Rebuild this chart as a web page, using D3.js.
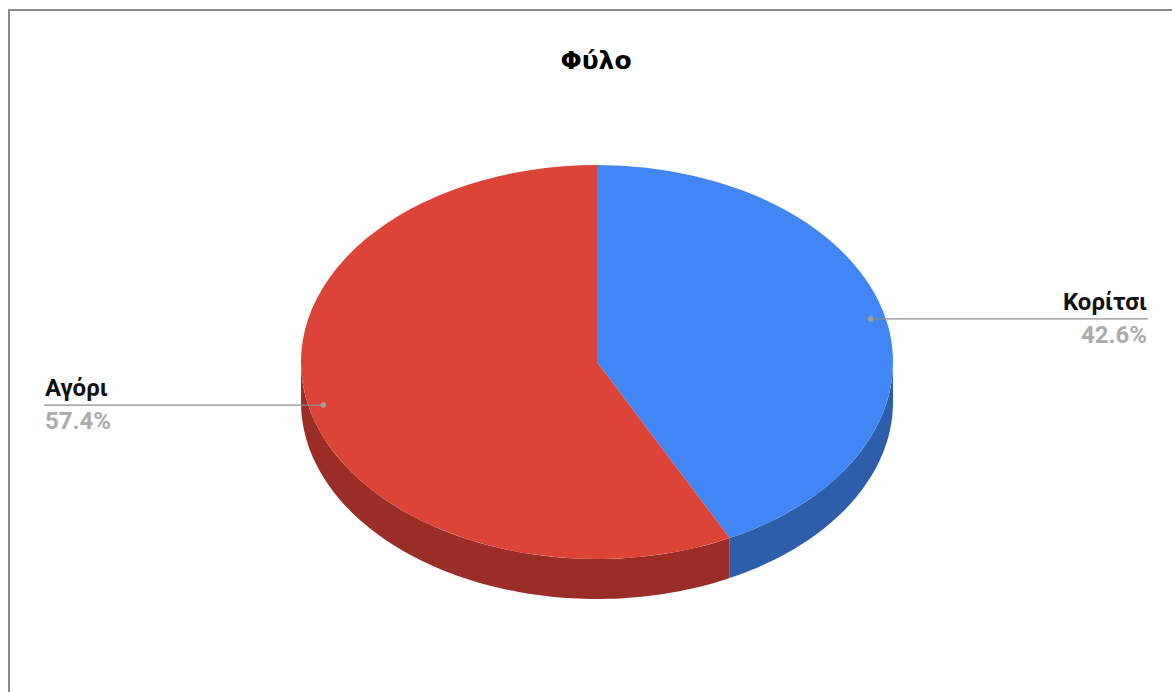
<!DOCTYPE html>
<html>
<head>
<meta charset="utf-8">
<script src="https://cdn.jsdelivr.net/npm/d3@7"></script>
<style>
  html, body { margin: 0; padding: 0; background: #fff; }
  svg { display: block; }
  text { font-family: Roboto, "Noto Sans", sans-serif; }
</style>
</head>
<body>
<svg id="chart" width="1172" height="692"></svg>
<script>
// Gender split (percent of respondents)
const categories = ["Κορίτσι", "Αγόρι"];
const values = [42.6, 57.4];
const topColors = ["#4285F4", "#DB4437"];
const sideColors = ["#2D5EAC", "#9A2E26"];
const title = "Φύλο";

const W = 1172, H = 692;
const cx = 597, cy = 362;
const rx = 296, ry = 197, depth = 40;

const svg = d3.select("#chart");

// frame of the chart area
svg.append("rect")
  .attr("x", 9).attr("y", 10)
  .attr("width", W + 20).attr("height", H + 20)
  .attr("fill", "none")
  .attr("stroke", "#8a8a8a")
  .attr("stroke-width", 2);

svg.append("text")
  .attr("x", cx - 1).attr("y", 69)
  .attr("text-anchor", "middle")
  .style("font-family", "'DejaVu Sans', sans-serif")
  .attr("font-size", 25)
  .attr("font-weight", "bold")
  .attr("fill", "#000")
  .text(title);

const pie = d3.pie().sort(null).value(d => d)(values);

// angle measured clockwise from 12 o'clock, mapped onto the ellipse
const ex = t => cx + rx * Math.sin(t);
const ey = t => cy - ry * Math.cos(t);

// visible side wall: the front half of the ellipse (90°..270°)
const frontA = Math.PI / 2, frontB = 3 * Math.PI / 2;
const line = d3.line();
const sides = svg.append("g");
pie.forEach((p, i) => {
  const a = Math.max(p.startAngle, frontA);
  const b = Math.min(p.endAngle, frontB);
  if (b <= a) return;
  const ts = d3.range(0, 101).map(k => a + (b - a) * k / 100);
  const pts = ts.map(t => [ex(t), ey(t)])
    .concat(ts.slice().reverse().map(t => [ex(t), ey(t) + depth]));
  sides.append("path")
    .attr("d", line(pts) + "Z")
    .attr("fill", sideColors[i]);
});

// top faces: circular arcs squashed into an ellipse
const arc = d3.arc().innerRadius(0).outerRadius(rx);
svg.append("g")
  .attr("transform", `translate(${cx},${cy}) scale(1,${ry / rx})`)
  .selectAll("path")
  .data(pie)
  .join("path")
  .attr("d", arc)
  .attr("fill", (d, i) => topColors[i]);

// callout labels
const labelCfg = [
  { side: "right", lineEnd: 1148, textX: 1147 },
  { side: "left", lineEnd: 44, textX: 45 }
];
const g = svg.append("g");
pie.forEach((p, i) => {
  const mid = (p.startAngle + p.endAngle) / 2;
  const dx = cx + 0.95 * rx * Math.sin(mid);
  const dy = cy - 0.95 * ry * Math.cos(mid);
  const cfg = labelCfg[i];
  g.append("line")
    .attr("x1", dx).attr("y1", dy)
    .attr("x2", cfg.lineEnd).attr("y2", dy)
    .attr("stroke", "#8c8c8c").attr("stroke-width", 1.3);
  g.append("circle")
    .attr("cx", dx).attr("cy", dy).attr("r", 2.8)
    .attr("fill", "#9e9e9e");
  const anchor = cfg.side === "right" ? "end" : "start";
  g.append("text")
    .attr("x", cfg.textX).attr("y", dy - 9)
    .attr("text-anchor", anchor)
    .attr("font-size", 24).attr("font-weight", "bold")
    .attr("fill", "#111")
    .text(categories[i]);
  g.append("text")
    .attr("x", cfg.textX).attr("y", dy + 24)
    .attr("text-anchor", anchor)
    .attr("font-size", 24).attr("font-weight", "bold")
    .attr("fill", "#ababab")
    .text(values[i].toFixed(1) + "%");
});
</script>
</body>
</html>
